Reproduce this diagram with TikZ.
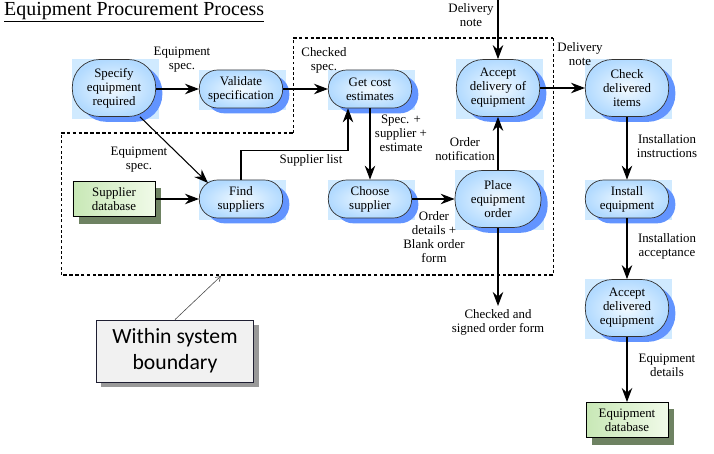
\documentclass[tikz,border=0pt]{standalone}
\usepackage{fontspec}
\setmainfont{Liberation Serif}
\newfontfamily\notefont{Carlito}
\usetikzlibrary{arrows.meta,shadows,backgrounds}

\definecolor{procfill}{RGB}{178,218,255}
\definecolor{proclight}{RGB}{242,250,255}
\definecolor{halo}{RGB}{208,234,255}
\definecolor{procshadow}{RGB}{98,148,255}
\definecolor{dbfill}{RGB}{200,232,182}
\definecolor{dblight}{RGB}{240,250,232}
\definecolor{dbshadow}{RGB}{110,130,98}
\definecolor{notefill}{RGB}{241,241,241}
\definecolor{noteline}{RGB}{30,30,50}

\tikzset{
	proc/.style={draw=black!80, line width=0.6pt, rounded corners=0.55cm,
		minimum width=2.5cm, minimum height=1.14cm, inner sep=1pt,
		inner color=proclight, outer color=procfill, align=center,
		font=\fontsize{11}{12}\selectfont,
		drop shadow={shadow xshift=0.2cm, shadow yshift=-0.16cm, fill=procshadow, opacity=1}},
	bigproc/.style={proc, rounded corners=0.82cm, minimum height=1.71cm},
	store/.style={draw=black, line width=0.8pt, minimum width=2.46cm, minimum height=1.05cm,
		inner sep=1pt, left color=dbfill, right color=dblight, align=center,
		font=\fontsize{11}{12}\selectfont,
		drop shadow={shadow xshift=0.19cm, shadow yshift=-0.21cm, fill=dbshadow, opacity=1}},
	lbl/.style={align=center, inner sep=0pt, font=\fontsize{11}{12}\selectfont},
	flow/.style={line width=0.9pt, -{Stealth[length=12pt, width=9pt, inset=4pt]}},
	boundh/.style={line width=1.4pt, dash pattern=on 3pt off 2pt},
	boundv/.style={line width=0.6pt, dash pattern=on 2.5pt off 2pt}
}

\begin{document}
\begin{tikzpicture}[x=0.03cm, y=-0.03cm]
	\useasboundingbox (0,0) rectangle (714,454);

	% title
	\node[anchor=west, inner sep=0pt, font=\fontsize{17}{20}\selectfont] (title) at (4,12) {\underline{Equipment Procurement Process}};

	% system boundary
	\draw[boundh] (61,133) -- (293,133);
	\draw[boundv] (293,133) -- (293,38);
	\draw[boundh] (293,38) -- (553,38);
	\draw[boundv] (553,38) -- (553,275);
	\draw[boundh] (553,275) -- (61,275);
	\draw[boundv] (61,275) -- (61,133);
	\coordinate (bnd) at (221,276);

	% processes
	\node[bigproc] (spec) at (114,88) {Specify\\equipment\\required};
	\node[proc] (valid) at (241,89) {Validate\\specification};
	\node[proc] (cost) at (370,89) {Get cost\\estimates};
	\node[proc] (find) at (241,199) {Find\\suppliers};
	\node[proc] (choose) at (370,199) {Choose\\supplier};
	\node[bigproc] (accdel) at (498,88) {Accept\\delivery of\\equipment};
	\node[bigproc, minimum width=2.58cm] (place) at (498,199) {Place\\equipment\\order};
	\node[bigproc] (check) at (627,88) {Check\\delivered\\items};
	\node[proc] (install) at (627,199) {Install\\equipment};
	\node[bigproc] (accept) at (627,308) {Accept\\delivered\\equipment};

	% stores
	\node[store] (supdb) at (114,199) {Supplier\\database};
	\node[store] (eqdb) at (627,420) {Equipment\\database};

	% white page and light halo behind the processes
	\begin{scope}[on background layer]
		\fill[white] (0,0) rectangle (714,454);
		\foreach \p in {spec,valid,cost,find,choose,accdel,place,check,install,accept}
			\fill[halo] (\p.north west) rectangle ([shift={(3,2)}]\p.south east);
	\end{scope}

	% outer ends
	\coordinate (dnin) at (498,0);
	\coordinate (signed) at (498,306);

	% flows
	\draw[flow] (spec.east |- valid) -- (valid.west);
	\draw[flow] (valid.east) -- (cost.west);
	\draw[flow] ([xshift=0.78cm]spec.south) -- ([shift={(-33,-16)}]find.center);
	\draw[flow] (supdb.east) -- (find.west);
	\draw[flow] (find.north) -- ++(0,-29) -| ([xshift=-0.66cm]cost.south);
	\draw[flow] (cost.south) -- (choose.north);
	\draw[flow] (choose.east) -- (place.west |- choose);
	\draw[flow] (place.north) -- (accdel.south);
	\draw[flow] (dnin) -- (accdel.north);
	\draw[flow] (accdel.east) -- (check.west);
	\draw[flow] (check.south) -- (install.north);
	\draw[flow] (install.south) -- (accept.north);
	\draw[flow] (accept.south) -- (eqdb.north);
	\draw[flow] (place.south) -- (signed);

	% labels
	\node[lbl] (l1) at (182,60) {Equipment\\spec.};
	\node[lbl] (l2) at (324,60) {Checked\\spec.};
	\node[lbl] (l3) at (139,160) {Equipment\\spec.};
	\node[lbl] (l4) at (311,160) {Supplier list};
	\node[lbl] (l5) at (401,133) {Spec. +\\supplier +\\estimate};
	\node[lbl] (l6) at (465,149) {Order\\notification};
	\node[lbl] (l7) at (434,237) {Order\\details +\\Blank order\\form};
	\node[lbl] (l8) at (471,15) {Delivery\\note};
	\node[lbl] (l9) at (580,54) {Delivery\\note};
	\node[lbl] (l10) at (667,146) {Installation\\instructions};
	\node[lbl] (l11) at (667,246) {Installation\\acceptance};
	\node[lbl] (l12) at (498,322) {Checked and\\signed order form};
	\node[lbl] (l13) at (667,365) {Equipment\\details};

	% callout
	\node[draw=noteline, line width=0.7pt, fill=notefill, minimum width=4.71cm, minimum height=1.86cm,
		align=center, font=\notefont\fontsize{18.5}{22}\selectfont,
		drop shadow={shadow xshift=0.15cm, shadow yshift=-0.15cm, fill=black!40, opacity=1}]
		(note) at (175,351) {Within system\\boundary};
	\draw[black!70, line width=0.5pt, -{Straight Barb[length=4pt, width=5pt]}] (note.north) -- (bnd);
\end{tikzpicture}
\end{document}
